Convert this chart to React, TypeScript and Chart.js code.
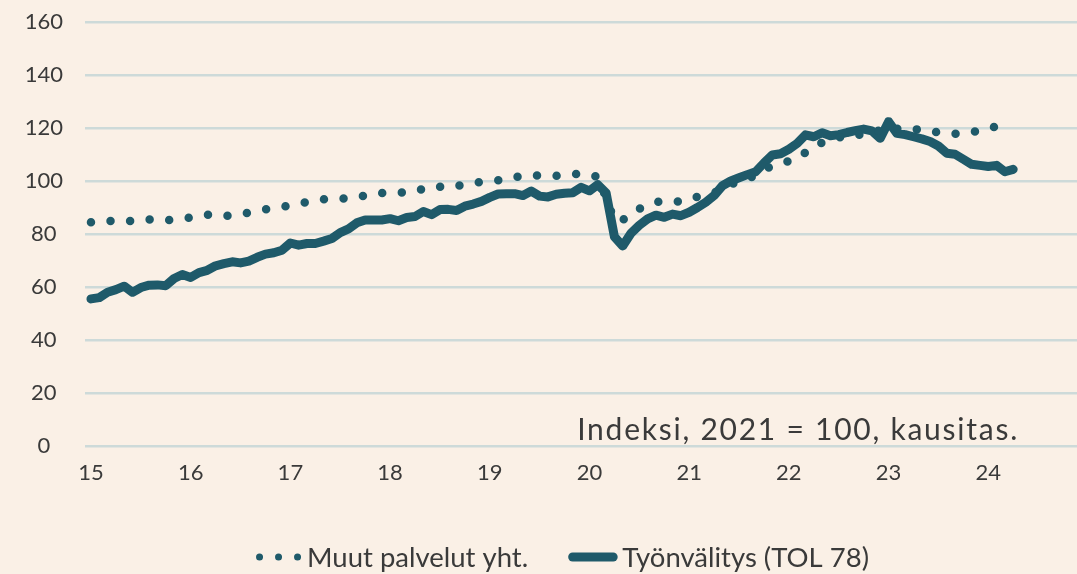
import React, { useEffect, useRef } from "react";
import { Chart, registerables } from "chart.js";

Chart.register(...registerables);

// ---- Data ----
const startYear = 15; // first month = January 2015
const yearTicks = [15, 16, 17, 18, 19, 20, 21, 22, 23, 24];
const seriesLabels = ["Muut palvelut yht.", "Työnvälitys (TOL 78)"];
const annotationText = "Indeksi, 2021 = 100, kausitas.";

// Monthly, Jan 2015 – Mar 2024
const muutPalvelut = [
  84.4, 84.7, 84.9, 84.9, 84.8, 84.9, 85.3, 85.5, 85.3, 85.2,
  85.5, 85.8, 86.2, 86.9, 87.3, 87.0, 86.7, 87.1, 87.5, 88.1,
  88.7, 89.3, 89.7, 90.2, 90.8, 91.4, 92.1, 92.9, 93.1, 93.2,
  93.3, 93.5, 93.8, 94.6, 95.3, 95.5, 95.6, 95.6, 95.7, 96.0,
  97.1, 98.0, 97.8, 97.5, 98.1, 98.8, 99.3, 99.7, 100.0, 100.3,
  100.7, 101.4, 102.1, 102.1, 102.0, 102.0, 102.0, 102.1, 102.5, 102.8,
  102.4, 101.5, 93.7, 85.0, 85.3, 87.1, 89.5, 91.0, 92.0, 92.5,
  92.3, 92.2, 93.1, 94.1, 94.9, 95.6, 97.1, 98.7, 99.8, 100.7,
  102.3, 104.4, 105.6, 106.6, 107.5, 108.5, 110.8, 113.4, 114.4, 115.5,
  116.4, 117.2, 117.5, 117.5, 118.0, 119.3, 120.2, 119.7, 119.2, 119.4,
  119.6, 119.0, 118.3, 117.9, 117.8, 117.8, 118.4, 119.0, 119.8, 120.7,
  121.2,
];

// Monthly, Jan 2015 – Apr 2024
const tyonvalitys = [
  55.5, 56.0, 58.0, 59.0, 60.3, 58.0, 59.8, 60.7, 60.8, 60.5,
  63.2, 64.7, 63.6, 65.4, 66.3, 68.0, 68.8, 69.5, 69.1, 69.8,
  71.2, 72.4, 72.9, 73.9, 76.6, 75.8, 76.4, 76.4, 77.3, 78.3,
  80.5, 81.9, 84.2, 85.3, 85.3, 85.3, 85.8, 85.0, 86.2, 86.6,
  88.5, 87.3, 89.2, 89.3, 88.9, 90.5, 91.3, 92.3, 93.8, 95.1,
  95.2, 95.2, 94.5, 96.2, 94.3, 94.0, 95.0, 95.4, 95.6, 97.6,
  96.3, 98.6, 95.5, 79.0, 75.5, 80.3, 83.3, 85.7, 87.1, 86.3,
  87.5, 86.9, 88.2, 90.0, 92.0, 94.5, 98.2, 100.0, 101.2, 102.4,
  103.5, 106.8, 109.8, 110.3, 112.0, 114.2, 117.4, 116.7, 118.2, 117.1,
  117.5, 118.3, 119.0, 119.6, 118.9, 116.1, 122.4, 118.0, 117.5, 116.7,
  115.9, 114.9, 113.2, 110.5, 110.1, 108.2, 106.3, 105.9, 105.5, 105.9,
  103.5, 104.4,
];

const toPoints = (vals: number[]) =>
  vals.map((v, i) => ({ x: startYear + i / 12, y: v }));

// ---- Style ----
const BG = "#faf0e6";
const LINE = "#1f5a6a";
const GRID = "#cddad9";
const TEXT = "#3a3a3a";
const FONT = "Lato, 'Open Sans', sans-serif";

const bgPlugin = {
  id: "bg",
  beforeDraw(chart: any) {
    const { ctx, width, height } = chart;
    ctx.save();
    ctx.fillStyle = BG;
    ctx.fillRect(0, 0, width, height);
    ctx.restore();
  },
};

const annotationPlugin = {
  id: "annotationText",
  afterDatasetsDraw(chart: any) {
    const { ctx, chartArea } = chart;
    ctx.save();
    ctx.font = `30px ${FONT}`;
    try {
      (ctx as any).letterSpacing = "1.75px";
    } catch (e) {}
    ctx.fillStyle = TEXT;
    ctx.textAlign = "right";
    ctx.textBaseline = "alphabetic";
    ctx.fillText(annotationText, chartArea.right - 58, chartArea.bottom - 6);
    ctx.restore();
  },
};

const legendPlugin = {
  id: "customLegend",
  afterDraw(chart: any) {
    const { ctx } = chart;
    const iconW = [47, 49];
    const gapIcon = 5;
    const gapItem = 40;
    ctx.save();
    ctx.font = `27.5px ${FONT}`;
    const items = chart.data.datasets.map((ds: any, k: number) => ({
      ds,
      iw: iconW[k],
      tw: ctx.measureText(ds.label).width,
    }));
    const total =
      items.reduce((s: number, it: any) => s + it.iw + gapIcon + it.tw, 0) +
      gapItem * (items.length - 1);
    let x = 562 - total / 2;
    const y = 557;
    items.forEach((it: any) => {
      const ds = it.ds;
      const dotted = ds.borderDash && ds.borderDash.length;
      ctx.strokeStyle = ds.borderColor;
      ctx.lineWidth = dotted ? 7 : ds.borderWidth;
      ctx.lineCap = "round";
      ctx.setLineDash(dotted ? [0, 19] : []);
      ctx.beginPath();
      const inset = 4.5;
      ctx.moveTo(x + inset, y);
      ctx.lineTo(x + it.iw - inset + 0.5, y);
      ctx.stroke();
      ctx.setLineDash([]);
      ctx.fillStyle = TEXT;
      ctx.textAlign = "left";
      ctx.textBaseline = "middle";
      ctx.fillText(ds.label, x + it.iw + gapIcon, y + 1);
      x += it.iw + gapIcon + it.tw + gapItem;
    });
    ctx.restore();
  },
};

export default function App() {
  const ref = useRef<HTMLCanvasElement | null>(null);

  useEffect(() => {
    if (!ref.current) return;
    const chart = new Chart(ref.current, {
      type: "line",
      data: {
        datasets: [
          {
            label: seriesLabels[0],
            data: toPoints(muutPalvelut),
            borderColor: LINE,
            backgroundColor: LINE,
            borderWidth: 8.5,
            borderDash: [0, 19.6],
            borderCapStyle: "round",
            borderJoinStyle: "round",
            pointRadius: 0,
            tension: 0,
            fill: false,
          },
          {
            label: seriesLabels[1],
            data: toPoints(tyonvalitys),
            borderColor: LINE,
            backgroundColor: LINE,
            borderWidth: 9,
            borderCapStyle: "round",
            borderJoinStyle: "round",
            pointRadius: 0,
            tension: 0,
            fill: false,
          },
        ],
      },
      options: {
        responsive: false,
        animation: false,
        layout: { padding: { top: 22, right: 0, left: 0, bottom: 0 } },
        plugins: {
          legend: { display: false },
          tooltip: { enabled: false },
        },
        scales: {
          x: {
            type: "linear",
            min: 14.94,
            max: 24.89,
            grid: { display: false, drawTicks: false },
            border: { display: false },
            afterBuildTicks: (axis: any) => {
              axis.ticks = yearTicks.map((v) => ({ value: v }));
            },
            afterFit: (scale: any) => {
              scale.height = 128;
              scale.paddingLeft = 0;
              scale.paddingRight = 0;
            },
            ticks: {
              autoSkip: false,
              maxRotation: 0,
              padding: 14,
              color: TEXT,
              font: { family: FONT, size: 22 },
              callback: (v: any) => String(v),
            },
          },
          y: {
            min: 0,
            max: 160,
            grid: { color: GRID, lineWidth: 2.5, drawTicks: false },
            border: { display: false },
            afterFit: (scale: any) => {
              scale.width = 85;
              scale.paddingTop = 0;
              scale.paddingBottom = 0;
            },
            ticks: {
              stepSize: 20,
              padding: 22,
              crossAlign: "center",
              color: TEXT,
              font: { family: FONT, size: 22 },
            },
          },
        },
      },
      plugins: [bgPlugin, annotationPlugin, legendPlugin],
    } as any);
    return () => chart.destroy();
  }, []);

  return (
    <div
      style={{
        position: "fixed",
        left: 0,
        top: 0,
        width: 1077,
        height: 574,
        background: BG,
      }}
    >
      <canvas ref={ref} width={1077} height={574} />
    </div>
  );
}
